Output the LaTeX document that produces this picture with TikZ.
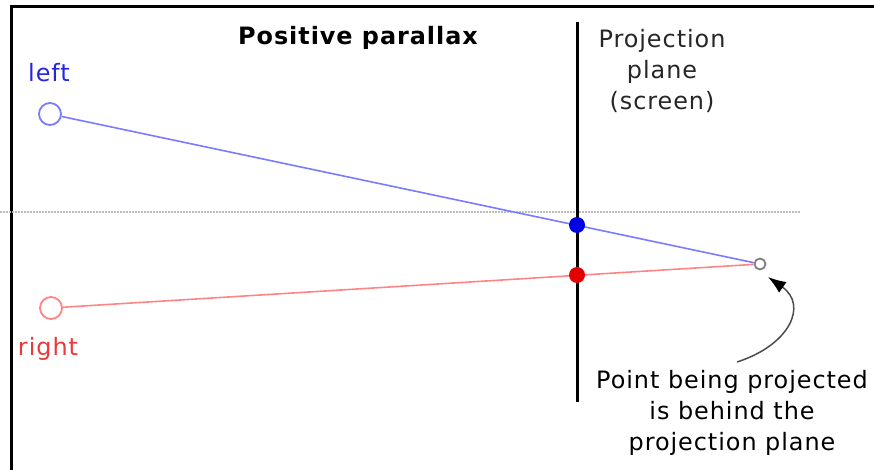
\documentclass[tikz,border=0pt]{standalone}
\usepackage{fontspec}
\setmainfont{DejaVu Sans}[LetterSpace=4]
\usetikzlibrary{
  positioning,
  arrows.meta
}
\definecolor{lefteye}{HTML}{2626DD}
\definecolor{leftline}{HTML}{7B7BFF}
\definecolor{righteye}{HTML}{E83A3A}
\definecolor{rightline}{HTML}{FF8585}
\definecolor{chill}{HTML}{BBBBBB}

\tikzset{
  label text/.style={font=\fontsize{24}{31}\selectfont, inner sep=0pt},
  eye/.style={circle, draw, fill=white, line width=1.8bp, minimum size=22bp, inner sep=0pt},
  hit/.style={circle, minimum size=16bp, inner sep=0pt},
}

\begin{document}
\begin{tikzpicture}[x=1bp, y=-1bp]
  \useasboundingbox (0,0) rectangle (874,470);

  % Frame
  \draw[line width=3bp] (11,470) -- (11,7) -- (874,7);

  % Title
  \node[label text, font=\fontsize{24}{31}\selectfont\bfseries, anchor=base] (title) at (358,45) {Positive parallax};

  % Horizon
  \coordinate (horizonL) at (0,212);
  \coordinate (horizonR) at (800,212);
  \draw[chill, line width=2.5bp, dash pattern=on 1.5bp off 1.5bp] (horizonL) -- (horizonR);

  % Eyes and target point
  \node[eye, draw=leftline] (left) at (50,114) {};
  \node[eye, draw=rightline] (right) at (51,308) {};
  \node[circle, draw=gray, fill=white, line width=1.8bp, minimum size=11bp, inner sep=0pt] (target) at (760,264) {};
  \node[label text, lefteye, anchor=base] (leftlabel) at (49,82) {left};
  \node[label text, righteye, anchor=base] (rightlabel) at (48,356) {right};

  % Rays
  \draw[leftline, line width=1.6bp] (left) -- (target);
  \draw[rightline, line width=1.6bp] (right) -- (target);

  % Projection plane
  \coordinate (planetop) at (577,22);
  \coordinate (planebot) at (577,402);
  \draw[line width=3bp] (planetop) -- (planebot);
  \node[label text, align=center, anchor=north, text=black!85] (plane) at (662,29) {Projection\\plane\\(screen)};

  % Hits on the plane
  \node[hit, fill=blue!90!black] (lefthit) at (577,225) {};
  \node[hit, fill=red!90!black] (righthit) at (577,275) {};

  % Note
  \node[label text, align=center, anchor=north] (note) at (732,370) {Point being projected\\is behind the\\projection plane};
  \draw[black!70, line width=1.5bp, -{Latex[length=18bp, width=13bp, color=black]}]
    ([xshift=5bp, yshift=8bp]note.north) .. controls (790,345) and (808,305) .. ([xshift=8bp, yshift=-13bp]target.center);
\end{tikzpicture}
\end{document}
